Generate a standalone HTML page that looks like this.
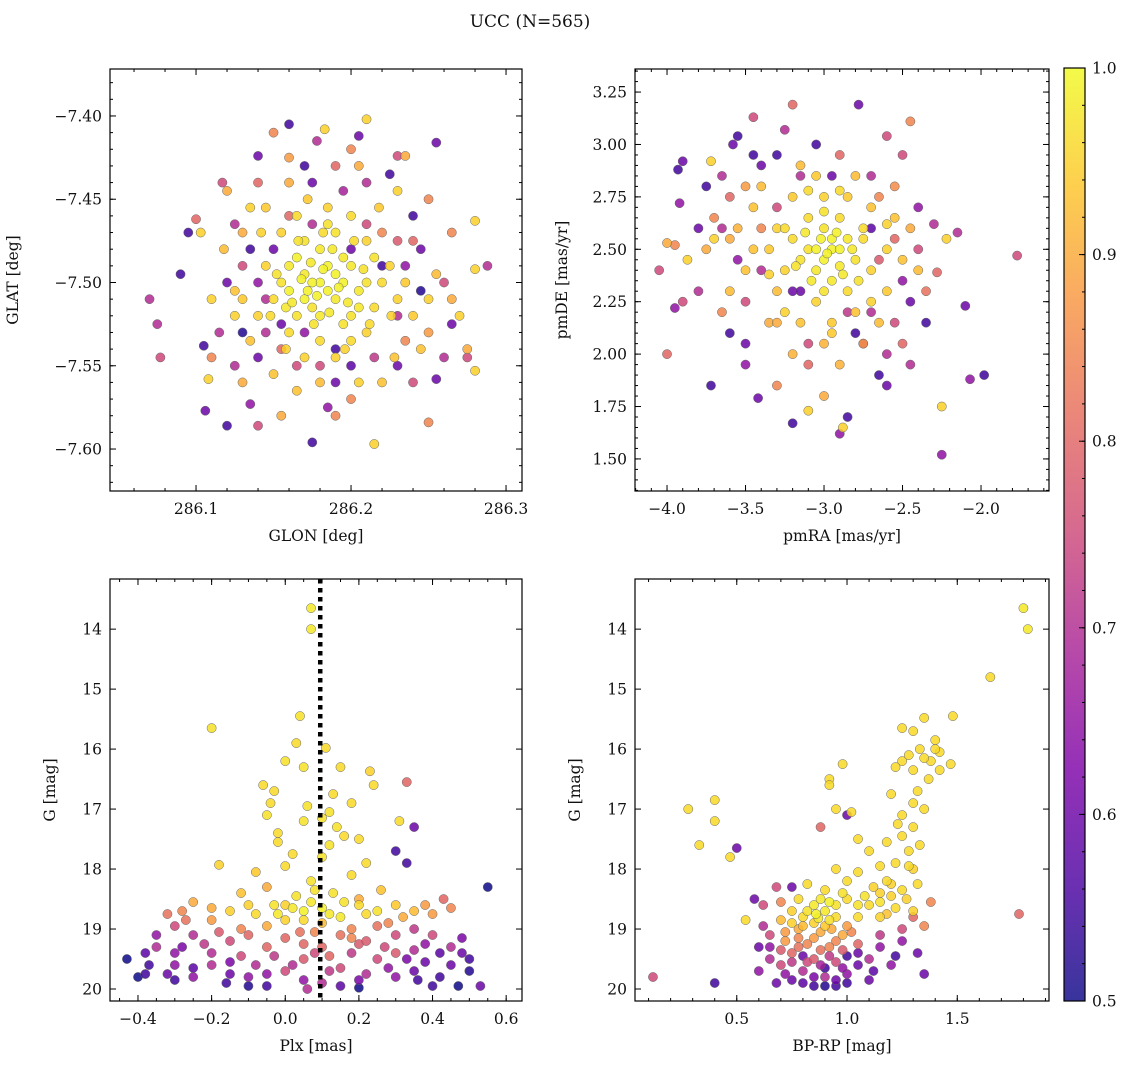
<!DOCTYPE html>
<html><head><meta charset="utf-8"><style>
html,body{margin:0;padding:0;background:#fff}
svg text{font-family:"DejaVu Serif","Liberation Serif",serif;fill:#111}
</style></head><body>
<svg id="fig" width="1136" height="1068" viewBox="0 0 1136 1068" xmlns="http://www.w3.org/2000/svg">
<defs><linearGradient id="plasma" x1="0" y1="1" x2="0" y2="0">
<stop offset="0" stop-color="#0d0887"/><stop offset="0.125" stop-color="#4c02a1"/><stop offset="0.25" stop-color="#7e03a8"/><stop offset="0.375" stop-color="#a82296"/><stop offset="0.5" stop-color="#cc4778"/><stop offset="0.625" stop-color="#e56b5d"/><stop offset="0.75" stop-color="#f89540"/><stop offset="0.875" stop-color="#fdc527"/><stop offset="1" stop-color="#f0f921"/></linearGradient></defs>
<text x="530" y="27" font-size="17" text-anchor="middle">UCC (N=565)</text>
</svg>
<script>
// panel data: [x, y, membership probability]
const posPoints=[[286.07,-7.51,.7],[286.075,-7.525,.7],[286.077,-7.545,.75],[286.09,-7.495,.55],[286.095,-7.47,.55],[286.10,-7.462,.8],[286.103,-7.47,.95],[286.105,-7.538,.55],[286.106,-7.577,.6],[286.108,-7.558,.95],[286.12,-7.586,.55],[286.117,-7.44,.75],[286.12,-7.445,.9],[286.14,-7.424,.6],[286.15,-7.41,.85],[286.16,-7.405,.55],[286.178,-7.415,.7],[286.183,-7.408,.95],[286.205,-7.412,.6],[286.21,-7.402,.95],[286.23,-7.424,.75],[286.235,-7.424,.9],[286.255,-7.416,.6],[286.28,-7.463,.95],[286.288,-7.49,.7],[286.28,-7.492,.95],[286.275,-7.54,.9],[286.28,-7.553,.95],[286.275,-7.545,.75],[286.255,-7.558,.6],[286.25,-7.584,.85],[286.215,-7.597,.95],[286.175,-7.596,.55],[286.155,-7.58,.9],[286.14,-7.586,.75],[286.135,-7.573,.65],[286.13,-7.56,.9],[286.125,-7.55,.7],[286.14,-7.545,.6],[286.2,-7.57,.85],[286.205,-7.56,.95],[286.23,-7.55,.6],[286.24,-7.56,.75],[286.26,-7.5,.75],[286.265,-7.51,.9],[286.27,-7.52,.95],[286.245,-7.48,.6],[286.25,-7.45,.85],[286.24,-7.46,.55],[286.23,-7.445,.95],[286.135,-7.48,.55],[286.13,-7.49,.75],[286.12,-7.5,.6],[286.11,-7.51,.95],[286.115,-7.53,.7],[286.125,-7.52,.95],
[286.16,-7.46,.8],[286.175,-7.465,.7],[286.2,-7.48,.6],[286.21,-7.465,.75],[286.17,-7.53,.65],[286.18,-7.55,.75],[286.19,-7.56,.6],[286.155,-7.54,.8],[286.14,-7.5,.65],[286.23,-7.52,.7],[286.22,-7.47,.85],[286.16,-7.44,.9],[286.19,-7.43,.8],[286.21,-7.44,.7],[286.2,-7.42,.85],[286.175,-7.44,.6],[286.145,-7.53,.7],[286.13,-7.47,.9],[286.135,-7.455,.95],[286.24,-7.475,.8],[286.25,-7.51,.95],[286.235,-7.535,.85],[286.22,-7.49,.55],[286.15,-7.48,.6],[286.19,-7.54,.55],
[286.16,-7.49,.98],[286.17,-7.495,.98],[286.18,-7.50,.99],[286.185,-7.505,.99],[286.19,-7.51,.98],[286.175,-7.515,.97],[286.165,-7.52,.97],[286.2,-7.49,.98],[286.21,-7.50,.97],[286.195,-7.485,.98],[286.18,-7.48,.98],[286.17,-7.475,.97],[286.155,-7.50,.97],[286.15,-7.51,.96],[286.16,-7.53,.96],[286.18,-7.535,.96],[286.2,-7.52,.97],[286.215,-7.515,.96],[286.22,-7.5,.96],[286.225,-7.49,.95],[286.19,-7.47,.97],[286.2,-7.46,.96],[286.185,-7.455,.95],[286.165,-7.46,.96],[286.145,-7.49,.95],[286.14,-7.52,.95],[286.17,-7.545,.95],[286.19,-7.545,.95],[286.21,-7.53,.95],[286.23,-7.51,.95],[286.235,-7.5,.94],[286.21,-7.475,.95],[286.16,-7.505,.99],[286.175,-7.5,.99],[286.19,-7.495,.99],[286.205,-7.505,.98],[286.18,-7.52,.98],[286.2,-7.535,.96],[286.155,-7.47,.95],[286.145,-7.455,.94],[286.13,-7.51,.94],[286.125,-7.505,.93],[286.24,-7.52,.94],[286.245,-7.54,.93],[286.22,-7.56,.93],[286.165,-7.565,.93],[286.15,-7.555,.93],[286.185,-7.465,.97],[286.17,-7.51,.99],[286.195,-7.525,.97],[286.165,-7.485,.99],[286.185,-7.49,.99],[286.205,-7.515,.98],[286.172,-7.505,.99],[286.195,-7.5,.99],[286.158,-7.515,.98],[286.188,-7.48,.98],[286.215,-7.485,.97],
[286.168,-7.498,.99],[286.178,-7.508,.99],[286.182,-7.492,.99],[286.192,-7.503,.99],[286.162,-7.512,.98],[286.174,-7.488,.98],[286.198,-7.512,.98],[286.186,-7.518,.98],[286.152,-7.495,.97],[286.208,-7.492,.97],[286.176,-7.525,.97],[286.166,-7.475,.97],[286.202,-7.475,.96],[286.148,-7.52,.96],[286.212,-7.525,.96],[286.182,-7.47,.96],[286.158,-7.54,.95],[286.196,-7.54,.95],[286.226,-7.52,.95],[286.142,-7.47,.95],[286.218,-7.455,.94],[286.172,-7.45,.94],[286.135,-7.535,.93],[286.228,-7.545,.93],[286.18,-7.56,.92],[286.255,-7.495,.92],[286.118,-7.48,.92],[286.205,-7.43,.9],[286.16,-7.425,.88],[286.25,-7.53,.88],[286.11,-7.545,.85],[286.19,-7.58,.85],[286.265,-7.47,.85],[286.14,-7.44,.8],[286.23,-7.475,.78],[286.165,-7.55,.75],[286.215,-7.545,.72],[286.145,-7.51,.7],[286.195,-7.445,.68],[286.235,-7.49,.65],[286.155,-7.525,.6],[286.2,-7.55,.58],[286.17,-7.43,.55],[286.225,-7.435,.55],[286.13,-7.53,.52],[286.245,-7.505,.52],[286.185,-7.575,.65],[286.125,-7.465,.7],[286.26,-7.545,.7],[286.265,-7.525,.6]];
const pmPoints=[[-4.0,2.0,.8],[-4.05,2.4,.75],[-4.0,2.53,.9],[-3.95,2.52,.85],[-3.93,2.88,.55],[-3.9,2.92,.6],[-3.92,2.72,.65],[-3.95,2.22,.65],[-3.9,2.25,.75],[-3.87,2.45,.95],[-3.75,2.8,.55],[-3.72,2.92,.95],[-3.72,1.85,.55],[-3.55,3.04,.55],[-3.58,3.0,.6],[-3.45,3.13,.75],[-3.42,1.79,.6],[-3.2,3.19,.8],[-3.25,3.07,.7],[-3.2,1.67,.55],[-3.1,1.73,.95],[-2.9,1.62,.65],[-2.88,1.65,.95],[-2.85,1.7,.55],[-2.78,3.19,.6],[-2.6,3.04,.75],[-2.45,3.11,.85],[-2.5,2.95,.75],[-2.3,2.62,.7],[-2.28,2.39,.8],[-2.22,2.55,.95],[-2.15,2.58,.7],[-2.1,2.23,.6],[-2.07,1.88,.65],[-1.98,1.9,.55],[-1.77,2.47,.75],[-2.25,1.75,.95],[-2.25,1.52,.65],[-2.5,2.05,.8],[-2.55,2.15,.75],[-2.6,1.85,.6],[-2.65,1.9,.55],[-3.0,1.8,.9],[-3.3,1.85,.85],[-3.5,2.05,.6],[-3.6,2.1,.55],[-3.8,2.3,.7],[-3.65,2.6,.7],[-3.7,2.55,.95],[-3.6,2.75,.8],[-3.55,2.45,.65],[-3.5,2.25,.75],[-3.4,2.9,.6],[-3.35,2.15,.9],[-3.3,2.95,.55],[-3.15,2.85,.7],[-3.1,2.05,.75],[-2.7,2.85,.7],[-2.65,2.75,.85],[-2.55,2.55,.8],[-2.5,2.35,.65],[-2.45,2.25,.6],[-2.4,2.5,.75],[-2.7,2.2,.7],[-2.8,2.1,.55],[-3.2,2.3,.6],[-3.4,2.6,.85],[-2.75,2.05,.65],[-2.9,2.95,.8],[-3.05,3.0,.55],
[-3.0,2.45,.99],[-2.95,2.5,.99],[-2.9,2.42,.98],[-3.05,2.4,.98],[-2.85,2.55,.98],[-3.1,2.5,.97],[-2.95,2.35,.98],[-3.0,2.6,.97],[-2.8,2.45,.97],[-3.15,2.45,.97],[-2.9,2.65,.96],[-3.1,2.65,.96],[-2.75,2.6,.96],[-3.2,2.55,.96],[-2.85,2.3,.96],[-3.05,2.25,.95],[-3.25,2.4,.95],[-2.7,2.4,.95],[-3.3,2.6,.95],[-2.6,2.5,.95],[-3.0,2.75,.95],[-2.85,2.75,.94],[-3.2,2.75,.94],[-3.35,2.5,.94],[-2.6,2.3,.94],[-2.95,2.15,.94],[-3.15,2.15,.93],[-2.7,2.7,.93],[-3.45,2.7,.93],[-3.5,2.4,.93],[-2.55,2.65,.93],[-2.8,2.2,.93],[-3.3,2.3,.92],[-3.4,2.8,.92],[-2.65,2.15,.92],[-3.6,2.3,.92],[-2.4,2.4,.92],[-3.0,2.05,.91],[-3.2,2.0,.91],[-2.9,1.95,.91],[-3.55,2.6,.91],[-3.75,2.5,.9],[-2.95,2.55,.99],[-3.05,2.5,.99],[-2.9,2.5,.99],
[-2.98,2.48,.99],[-3.02,2.55,.99],[-2.92,2.58,.99],[-2.88,2.38,.98],[-3.08,2.35,.98],[-3.12,2.58,.98],[-2.82,2.5,.98],[-3.18,2.42,.97],[-2.78,2.35,.97],[-3.0,2.3,.97],[-3.0,2.68,.97],[-2.9,2.78,.96],[-3.1,2.78,.96],[-2.75,2.55,.96],[-3.25,2.6,.96],[-3.25,2.2,.95],[-2.7,2.25,.95],[-3.35,2.38,.95],[-2.6,2.62,.95],[-3.05,2.85,.94],[-2.95,2.1,.94],[-3.45,2.5,.93],[-2.5,2.45,.93],[-3.15,2.9,.92],[-2.8,2.85,.92],[-3.6,2.55,.9],[-2.45,2.6,.9],[-3.3,2.15,.9],[-2.75,2.05,.88],[-3.5,2.8,.88],[-2.55,2.8,.86],[-3.65,2.2,.85],[-3.7,2.65,.85],[-2.35,2.3,.82],[-3.1,1.95,.8],[-2.65,2.45,.78],[-3.3,2.7,.75],[-2.85,2.2,.72],[-3.4,2.4,.7],[-2.6,2.0,.7],[-3.5,1.95,.65],[-2.4,2.7,.65],[-3.15,2.3,.6],[-2.7,2.6,.58],[-3.8,2.6,.6],[-2.35,2.15,.55],[-3.45,2.95,.55],[-2.95,2.85,.6],[-3.65,2.85,.7],[-2.45,1.95,.7]];
const cmdPoints=[[0.07,13.65,.98],[0.07,14.0,.98],[0.04,15.45,.97],[-0.2,15.65,.97],[0.03,15.9,.96],[0.11,15.98,.96],[0.05,16.3,.97],[0.0,16.2,.97],[-0.06,16.6,.96],[-0.03,16.7,.96],[0.15,16.3,.96],[0.23,16.37,.95],[0.24,16.6,.96],[0.33,16.55,.8],[0.18,16.9,.96],[-0.04,16.9,.96],[-0.02,17.4,.96],[0.2,17.5,.96],[0.31,17.2,.96],[0.35,17.3,.6],[0.22,17.9,.96],[0.3,17.7,.55],[-0.18,17.93,.95],[0.0,17.95,.96],[0.12,17.6,.97],[0.1,17.8,.97],[0.05,17.2,.97],[-0.05,17.1,.97],[0.0,18.6,.95],[-0.1,18.6,.95],[0.2,18.5,.9],[-0.05,18.3,.9],[0.05,18.7,.99],[0.1,18.65,.99],[-0.02,18.75,.98],[0.15,18.8,.98],[0.25,18.7,.97],[-0.15,18.7,.95],[0.3,18.6,.94],[-0.25,18.55,.9],[-0.28,18.7,.85],[0.35,18.7,.92],[0.4,18.75,.88],[-0.2,18.85,.88],[0.45,18.65,.85],[0.43,18.5,.8],[-0.3,18.95,.75],[0.28,18.9,.85],[-0.12,19.0,.85],[0.18,19.0,.85],[0.08,19.05,.85],[0.0,19.15,.8],[-0.05,19.3,.8],[0.1,19.3,.8],[0.2,19.25,.78],[0.3,19.1,.75],[-0.15,19.2,.75],[-0.25,19.1,.7],[-0.35,19.3,.7],[0.35,19.35,.7],[0.45,19.3,.7],[0.4,19.1,.75],[-0.2,19.4,.7],[0.25,19.5,.75],[0.05,19.5,.78],[-0.08,19.6,.7],[0.15,19.65,.75],[0.1,19.9,.7],[-0.1,19.8,.65],[0.3,19.8,.65],[-0.3,19.6,.65],[-0.32,19.75,.6],[0.5,19.5,.55],[0.48,19.4,.6],[-0.43,19.5,.5],[-0.37,19.6,.55],[-0.38,19.75,.55],[-0.4,19.8,.5],[0.55,18.3,.5],[0.33,17.9,.55],[0.53,19.95,.6],[0.47,19.95,.5],[0.4,19.95,.55],[0.35,19.7,.6],[-0.16,19.9,.55],[-0.05,19.95,.55],[0.2,19.98,.5],[0.06,20.0,.7],[-0.25,19.8,.65],[-0.2,19.6,.7],[0.0,19.7,.75],[0.22,19.75,.7],[0.12,19.45,.8],[-0.12,19.45,.75],[0.38,19.55,.6],[0.42,19.8,.55],[-0.3,19.4,.65],[0.3,19.4,.78],[0.18,19.15,.85],[-0.05,18.95,.9],[0.1,18.9,.92],[0.0,18.85,.95],[0.2,18.6,.96],[0.07,18.55,.98],[0.13,18.4,.97],[0.03,18.45,.97],[0.07,18.2,.97],
[0.12,17.05,.97],[0.14,17.3,.97],[0.16,17.45,.96],[0.1,17.15,.97],[0.02,17.75,.96],[-0.02,17.55,.96],[0.06,16.95,.97],[0.13,16.75,.96],[0.18,18.1,.96],[-0.08,18.05,.94],[0.26,18.35,.93],[-0.12,18.4,.93],[0.08,18.35,.97],[0.16,18.55,.97],[-0.03,18.6,.97],[0.22,18.75,.96],[-0.08,18.75,.96],[0.32,18.8,.9],[-0.2,18.65,.9],[0.38,18.6,.88],[-0.32,18.75,.82],[0.05,18.85,.96],[0.12,18.75,.98],[0.02,18.65,.98],[0.25,18.95,.82],[-0.1,19.1,.8],[0.15,19.1,.82],[0.05,19.25,.8],[-0.22,19.25,.72],[0.27,19.3,.75],[0.38,19.25,.65],[-0.28,19.3,.62],[0.08,19.4,.75],[-0.03,19.45,.72],[0.18,19.4,.72],[0.33,19.5,.62],[-0.15,19.55,.62],[0.02,19.6,.7],[0.12,19.7,.72],[-0.05,19.75,.65],[0.28,19.65,.65],[0.45,19.6,.6],[-0.25,19.65,.58],[0.2,19.85,.62],[-0.15,19.75,.6],[0.05,19.85,.65],[0.15,19.95,.58],[-0.3,19.85,.55],[0.36,19.85,.55],[-0.1,19.95,.52],[-0.35,19.1,.65],[0.42,19.4,.58],[0.48,19.15,.62],[-0.38,19.4,.58],[0.5,19.7,.52],[0.04,19.05,.82],[0.22,19.2,.78],[-0.18,19.05,.78],[0.35,19.0,.72],[-0.27,18.85,.82]];
const colPoints=[[1.8,13.65,.98],[1.82,14.0,.98],[1.65,14.8,.96],[1.48,15.45,.96],[1.35,15.48,.96],[1.25,15.65,.96],[1.4,15.85,.96],[1.3,15.7,.96],[1.42,16.05,.96],[1.38,16.2,.96],[1.47,16.25,.96],[1.35,16.15,.96],[1.25,16.2,.96],[1.3,16.35,.96],[1.42,16.35,.96],[1.22,16.3,.96],[1.2,16.75,.96],[1.3,16.9,.96],[1.25,17.1,.96],[1.35,17.0,.96],[1.3,17.3,.96],[1.25,17.45,.96],[1.28,17.7,.96],[1.22,17.9,.96],[1.3,18.0,.95],[1.2,18.25,.95],[1.27,18.5,.95],[1.3,18.7,.95],[1.15,18.4,.95],[1.1,18.6,.96],[0.98,16.25,.96],[0.92,16.5,.96],[0.92,16.6,.96],[0.95,17.0,.96],[1.0,17.1,.6],[1.02,17.05,.96],[0.88,17.3,.8],[1.05,17.5,.96],[1.1,17.7,.96],[0.95,18.0,.96],[1.0,18.2,.96],[0.82,18.25,.96],[0.75,18.3,.6],[0.7,18.55,.85],[0.54,18.85,.96],[0.28,17.0,.96],[0.33,17.6,.96],[0.4,16.85,.96],[0.4,17.2,.96],[0.47,17.8,.96],[0.5,17.65,.6],[1.78,18.75,.8],[1.35,18.95,.85],[1.32,19.4,.6],[1.35,19.75,.6],[0.12,19.8,.75],[0.4,19.9,.55],[0.85,18.6,.98],[0.9,18.7,.98],[0.95,18.6,.97],[1.05,18.6,.97],[0.8,18.8,.96],[0.75,18.9,.95],[0.85,18.9,.95],[0.95,18.8,.96],[1.15,18.8,.95],[0.78,19.0,.9],[0.88,19.05,.9],[0.98,19.1,.9],[0.72,19.2,.88],[0.82,19.25,.85],[0.92,19.3,.85],[1.05,19.25,.8],[0.75,19.4,.8],[0.85,19.5,.78],[0.95,19.55,.75],[1.1,19.5,.7],[0.7,19.6,.75],[0.8,19.7,.7],[0.9,19.8,.7],[1.0,19.75,.65],[0.65,19.5,.7],[0.6,19.7,.65],[0.85,19.95,.55],[0.75,19.85,.6],[0.95,19.95,.55],[1.05,19.4,.6],[1.15,19.3,.65],[1.2,19.6,.65],[1.25,19.0,.75],[1.0,18.95,.88],[0.7,18.85,.92],[0.65,19.1,.75],[0.62,18.6,.75],[0.6,19.3,.6],[1.1,19.85,.6],[0.9,19.65,.55],[0.8,19.45,.6],[1.0,19.45,.55],[0.88,18.5,.98],[0.82,18.7,.97],[1.0,18.5,.96],[0.86,18.75,.99],[0.92,18.55,.99],[1.2,18.45,.95],[1.12,18.3,.95],
[1.15,18.55,.97],[1.08,18.45,.97],[1.22,18.65,.96],[1.18,18.2,.96],[1.25,18.35,.96],[1.32,18.25,.96],[1.28,17.95,.96],[1.33,17.6,.96],[1.23,17.25,.96],[1.18,17.55,.96],[1.32,16.7,.96],[1.37,16.5,.96],[1.28,16.1,.96],[1.33,16.0,.96],[1.4,16.0,.96],[1.15,17.95,.96],[1.05,18.05,.96],[0.9,18.35,.96],[0.98,18.4,.97],[0.78,18.5,.96],[0.75,18.7,.95],[0.92,18.85,.97],[1.05,18.8,.96],[1.18,18.75,.93],[0.8,18.95,.92],[0.9,18.95,.94],[0.72,19.05,.88],[0.85,19.15,.88],[0.95,19.2,.85],[1.02,19.05,.85],[0.78,19.3,.82],[0.88,19.35,.82],[0.98,19.35,.78],[0.7,19.35,.78],[0.82,19.55,.75],[0.92,19.45,.72],[0.75,19.55,.72],[0.88,19.6,.68],[0.98,19.65,.65],[0.72,19.75,.65],[0.85,19.8,.62],[0.95,19.85,.6],[0.8,19.9,.58],[0.9,19.95,.52],[0.68,19.9,.6],[1.05,19.6,.6],[1.12,19.7,.58],[0.65,19.3,.65],[1.15,19.1,.72],[1.25,19.2,.65],[1.3,18.8,.8],[0.62,18.95,.7],[0.68,18.3,.75],[0.58,18.5,.6],[1.38,18.55,.85],[1.22,19.45,.55],[1.0,19.9,.55],[0.78,19.15,.85],[0.93,19.0,.9],[0.87,18.82,.98]];
// tick labels
const t1x=[286.1,286.2,286.3], t1y=[-7.40,-7.45,-7.50,-7.55,-7.60];
const t2x=[-4.0,-3.5,-3.0,-2.5,-2.0], t2y=[1.50,1.75,2.00,2.25,2.50,2.75,3.00,3.25];
const t3x=[-0.4,-0.2,0.0,0.2,0.4,0.6], tGy=[14,15,16,17,18,19,20];
const t4x=[0.5,1.0,1.5], tCb=[0.5,0.6,0.7,0.8,0.9,1.0];
const plxMedian=0.095;

const NS='http://www.w3.org/2000/svg', svg=document.getElementById('fig');
function mk(tag,attrs,parent){const e=document.createElementNS(NS,tag);for(const k in attrs)e.setAttribute(k,attrs[k]);(parent||svg).appendChild(e);return e;}
const stops=[[0,[13,8,135]],[.125,[76,2,161]],[.25,[126,3,168]],[.375,[168,34,150]],[.5,[204,71,120]],[.625,[229,107,93]],[.75,[248,149,64]],[.875,[253,197,39]],[1,[240,249,33]]];
function cmap(p){let t=Math.max(0,Math.min(1,(p-0.5)/0.5));for(let i=1;i<stops.length;i++){if(t<=stops[i][0]){const a=stops[i-1],b=stops[i],f=(t-a[0])/(b[0]-a[0]);return 'rgb('+a[1].map((v,j)=>Math.round(v+(b[1][j]-v)*f)).join(',')+')';}}return 'rgb(240,249,33)';}
function fmt(v,d){return (v<0?'\u2212':'')+Math.abs(v).toFixed(d);}

function panel(o){
  const g=mk('g',{});
  
  
  const X=v=>o.L+(v-o.x0)/(o.x1-o.x0)*(o.R-o.L);
  const Y=v=>o.B-(v-o.y0)/(o.y1-o.y0)*(o.B-o.T);
  const pts=o.data.slice().sort((a,b)=>a[2]-b[2]);
  pts.forEach(d=>{const c=mk('circle',{cx:X(d[0]),cy:Y(d[1]),r:4.6,fill:cmap(d[2]),'fill-opacity':0.85,stroke:'#666','stroke-width':0.5},g);
    
    });
  if(o.vline!==undefined){const l=mk('line',{x1:X(o.vline),x2:X(o.vline),y1:o.T,y2:o.B,stroke:'#000','stroke-width':4.5,'stroke-dasharray':'4.5 4.5'},g);
    
    }
  const fr=mk('rect',{x:o.L,y:o.T,width:o.R-o.L,height:o.B-o.T,fill:'none',stroke:'#000','stroke-width':1.2},g);
  
  
  const eps=1e-9;
  for(let v=Math.ceil(o.x0/o.mx-eps)*o.mx;v<=o.x1+eps;v+=o.mx){const x=X(v);mk('line',{x1:x,x2:x,y1:o.B,y2:o.B-3,stroke:'#000'},g);mk('line',{x1:x,x2:x,y1:o.T,y2:o.T+3,stroke:'#000'},g);}
  for(let v=Math.ceil(o.y0/o.my-eps)*o.my;v<=o.y1+eps;v+=o.my){const y=Y(v);mk('line',{x1:o.L,x2:o.L+3,y1:y,y2:y,stroke:'#000'},g);mk('line',{x1:o.R,x2:o.R-3,y1:y,y2:y,stroke:'#000'},g);}
  o.tx.forEach(v=>{const x=X(v);mk('line',{x1:x,x2:x,y1:o.B,y2:o.B-6,stroke:'#000'},g);mk('line',{x1:x,x2:x,y1:o.T,y2:o.T+6,stroke:'#000'},g);
    const t=mk('text',{x:x,y:o.B+23,'font-size':15.5,'text-anchor':'middle'},g);t.textContent=fmt(v,o.dx);
    
    });
  o.ty.forEach(v=>{const y=Y(v);mk('line',{x1:o.L,x2:o.L+6,y1:y,y2:y,stroke:'#000'},g);mk('line',{x1:o.R,x2:o.R-6,y1:y,y2:y,stroke:'#000'},g);
    const t=mk('text',{x:o.L-8,y:y+5.5,'font-size':15.5,'text-anchor':'end'},g);t.textContent=fmt(v,o.dy);
    
    });
  const xl=mk('text',{x:(o.L+o.R)/2,y:o.B+50,'font-size':15.5,'text-anchor':'middle'},g);xl.textContent=o.xlab;
  
  
  const yx=o.L-o.ylo;
  const yl=mk('text',{x:yx,y:(o.T+o.B)/2,'font-size':15.5,'text-anchor':'middle',transform:`rotate(-90 ${yx} ${(o.T+o.B)/2})`},g);yl.textContent=o.ylab;
  
  
}
panel({name:'glon-glat-panel',data:posPoints,L:110,R:522,T:69,B:491,x0:286.0445,x1:286.3103,y0:-7.6252,y1:-7.3718,tx:t1x,ty:t1y,dx:1,dy:2,mx:0.02,my:0.01,xlab:'GLON [deg]',ylab:'GLAT [deg]',ylo:92});
panel({name:'proper-motion-panel',data:pmPoints,L:635,R:1049,T:69,B:491,x0:-4.204,x1:-1.567,y0:1.347,y1:3.360,tx:t2x,ty:t2y,dx:1,dy:2,mx:0.1,my:0.05,xlab:'pmRA [mas/yr]',ylab:'pmDE [mas/yr]',ylo:68});
panel({name:'parallax-magnitude-panel',data:cmdPoints,L:110,R:522,T:579,B:1001,x0:-0.476,x1:0.643,y0:20.2,y1:13.164,tx:t3x,ty:tGy,dx:1,dy:0,mx:0.05,my:0.2,xlab:'Plx [mas]',ylab:'G [mag]',ylo:55,vline:plxMedian});
panel({name:'color-magnitude-panel',data:colPoints,L:635,R:1049,T:579,B:1001,x0:0.0385,x1:1.916,y0:20.2,y1:13.164,tx:t4x,ty:tGy,dx:1,dy:0,mx:0.1,my:0.2,xlab:'BP-RP [mag]',ylab:'G [mag]',ylo:55});
const cb=mk('g',{});


const cT=68,cB=1001,cL=1064,cR=1085;
mk('rect',{x:cL,y:cT,width:cR-cL,height:cB-cT,fill:'url(#plasma)','fill-opacity':0.82},cb);
mk('rect',{x:cL,y:cT,width:cR-cL,height:cB-cT,fill:'none',stroke:'#000','stroke-width':1.2},cb);
const CY=v=>cB-(v-0.5)/0.5*(cB-cT);
for(let i=0;i<=25;i++){const y=CY(0.5+i*0.02);mk('line',{x1:cR,x2:cR-3,y1:y,y2:y,stroke:'#000'},cb);}
tCb.forEach(v=>{const y=CY(v);mk('line',{x1:cR,x2:cR-6,y1:y,y2:y,stroke:'#000'},cb);
  const t=mk('text',{x:cR+7,y:y+5.5,'font-size':15.5},cb);t.textContent=v.toFixed(1);
  
  });
</script>
</body></html>
